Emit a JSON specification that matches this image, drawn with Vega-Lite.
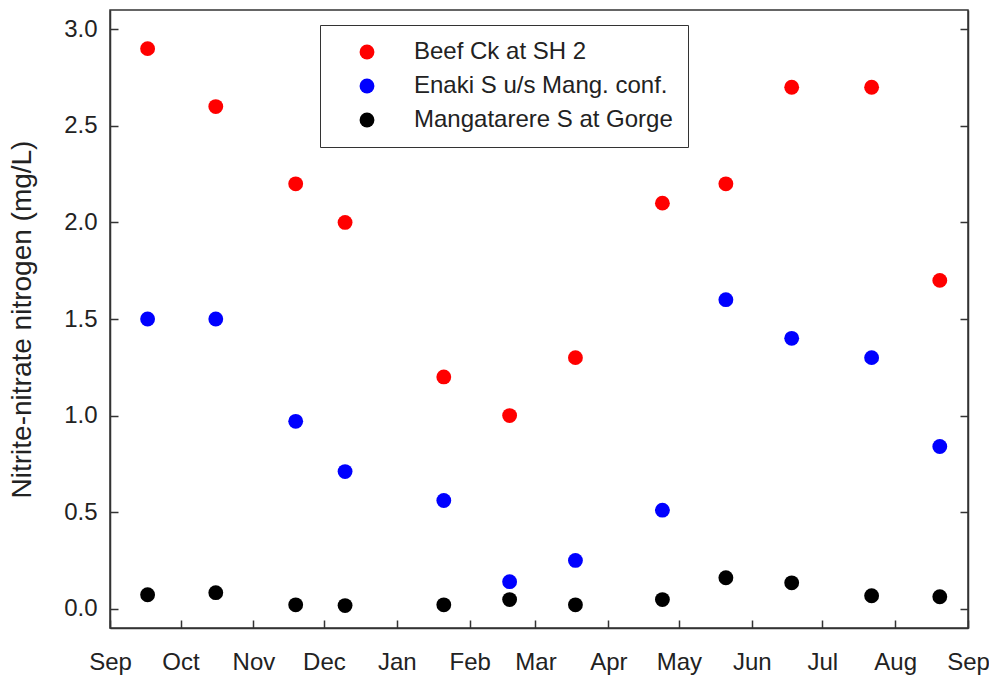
{
  "$schema": "https://vega.github.io/schema/vega-lite/v6.json",
  "width": 858,
  "height": 618,
  "autosize": {"type": "none"},
  "padding": {"left": 110, "top": 10, "right": 21, "bottom": 51},
  "background": "white",
  "config": {
    "view": {"stroke": "#333", "strokeWidth": 1.5},
    "font": "Liberation Sans",
    "axis": {
      "domainColor": "#333", "domainWidth": 1.5,
      "tickColor": "#333", "tickWidth": 1.5,
      "labelFont": "Liberation Sans", "labelFontSize": 24, "labelColor": "#222",
      "titleFont": "Liberation Sans", "titleFontSize": 28, "titleFontWeight": "normal", "titleColor": "#222",
      "grid": false
    }
  },
  "data": {
    "values": [
      {"date": "2008-09-17", "site": "Beef Ck at SH 2", "value": 2.9},
      {"date": "2008-10-16", "site": "Beef Ck at SH 2", "value": 2.6},
      {"date": "2008-11-19", "site": "Beef Ck at SH 2", "value": 2.2},
      {"date": "2008-12-10", "site": "Beef Ck at SH 2", "value": 2.0},
      {"date": "2009-01-21", "site": "Beef Ck at SH 2", "value": 1.2},
      {"date": "2009-02-18", "site": "Beef Ck at SH 2", "value": 1.0},
      {"date": "2009-03-18", "site": "Beef Ck at SH 2", "value": 1.3},
      {"date": "2009-04-24", "site": "Beef Ck at SH 2", "value": 2.1},
      {"date": "2009-05-21", "site": "Beef Ck at SH 2", "value": 2.2},
      {"date": "2009-06-18", "site": "Beef Ck at SH 2", "value": 2.7},
      {"date": "2009-07-22", "site": "Beef Ck at SH 2", "value": 2.7},
      {"date": "2009-08-20", "site": "Beef Ck at SH 2", "value": 1.7},
      {"date": "2008-09-17", "site": "Enaki S u/s Mang. conf.", "value": 1.5},
      {"date": "2008-10-16", "site": "Enaki S u/s Mang. conf.", "value": 1.5},
      {"date": "2008-11-19", "site": "Enaki S u/s Mang. conf.", "value": 0.97},
      {"date": "2008-12-10", "site": "Enaki S u/s Mang. conf.", "value": 0.71},
      {"date": "2009-01-21", "site": "Enaki S u/s Mang. conf.", "value": 0.56},
      {"date": "2009-02-18", "site": "Enaki S u/s Mang. conf.", "value": 0.14},
      {"date": "2009-03-18", "site": "Enaki S u/s Mang. conf.", "value": 0.25},
      {"date": "2009-04-24", "site": "Enaki S u/s Mang. conf.", "value": 0.51},
      {"date": "2009-05-21", "site": "Enaki S u/s Mang. conf.", "value": 1.6},
      {"date": "2009-06-18", "site": "Enaki S u/s Mang. conf.", "value": 1.4},
      {"date": "2009-07-22", "site": "Enaki S u/s Mang. conf.", "value": 1.3},
      {"date": "2009-08-20", "site": "Enaki S u/s Mang. conf.", "value": 0.84},
      {"date": "2008-09-17", "site": "Mangatarere S at Gorge", "value": 0.072},
      {"date": "2008-10-16", "site": "Mangatarere S at Gorge", "value": 0.083},
      {"date": "2008-11-19", "site": "Mangatarere S at Gorge", "value": 0.02},
      {"date": "2008-12-10", "site": "Mangatarere S at Gorge", "value": 0.016},
      {"date": "2009-01-21", "site": "Mangatarere S at Gorge", "value": 0.02},
      {"date": "2009-02-18", "site": "Mangatarere S at Gorge", "value": 0.047},
      {"date": "2009-03-18", "site": "Mangatarere S at Gorge", "value": 0.02},
      {"date": "2009-04-24", "site": "Mangatarere S at Gorge", "value": 0.047},
      {"date": "2009-05-21", "site": "Mangatarere S at Gorge", "value": 0.16},
      {"date": "2009-06-18", "site": "Mangatarere S at Gorge", "value": 0.134},
      {"date": "2009-07-22", "site": "Mangatarere S at Gorge", "value": 0.067},
      {"date": "2009-08-20", "site": "Mangatarere S at Gorge", "value": 0.062}
    ]
  },
  "layer": [
    {
      "mark": {"type": "point", "filled": true, "opacity": 1, "size": 220},
      "encoding": {
        "x": {
          "field": "date", "type": "temporal",
          "scale": {"type": "utc", "domain": ["2008-09-01", "2009-09-01"], "nice": false},
          "axis": {"title": null, "format": "%b", "tickCount": {"interval": "month", "step": 1}, "tickSize": -8, "labelPadding": 30, "labelFlush": false, "labelOverlap": false}
        },
        "y": {
          "field": "value", "type": "quantitative",
          "scale": {"domain": [-0.1, 3.1], "nice": false, "zero": false},
          "axis": {"title": "Nitrite-nitrate nitrogen (mg/L)", "values": [0, 0.5, 1, 1.5, 2, 2.5, 3], "format": ".1f", "tickSize": -8, "labelPadding": 21, "titlePadding": 27}
        },
        "color": {
          "field": "site", "type": "nominal",
          "scale": {"range": ["#ff0000", "#0000ff", "#000000"]},
          "legend": {
            "title": null, "orient": "none", "legendX": 210, "legendY": 15,
            "padding": 15, "symbolOffset": 20, "symbolSize": 220, "symbolType": "circle",
            "labelFontSize": 24, "labelFont": "Liberation Sans", "labelColor": "#222", "labelOffset": 35, "labelLimit": 500,
            "rowPadding": 10, "strokeColor": "#333", "fillColor": "white",
            "symbolStrokeWidth": 0,
            "encode": {"legend": {"update": {"strokeWidth": {"value": 1.5}}}}
          }
        }
      }
    },
    {
      "mark": {"type": "point", "opacity": 0},
      "encoding": {
        "x": {"field": "date", "type": "temporal"},
        "y": {
          "field": "value", "type": "quantitative",
          "axis": {"orient": "right", "title": null, "labels": false, "values": [0, 0.5, 1, 1.5, 2, 2.5, 3], "tickSize": -8}
        }
      }
    }
  ],
  "resolve": {"axis": {"y": "independent"}}
}
